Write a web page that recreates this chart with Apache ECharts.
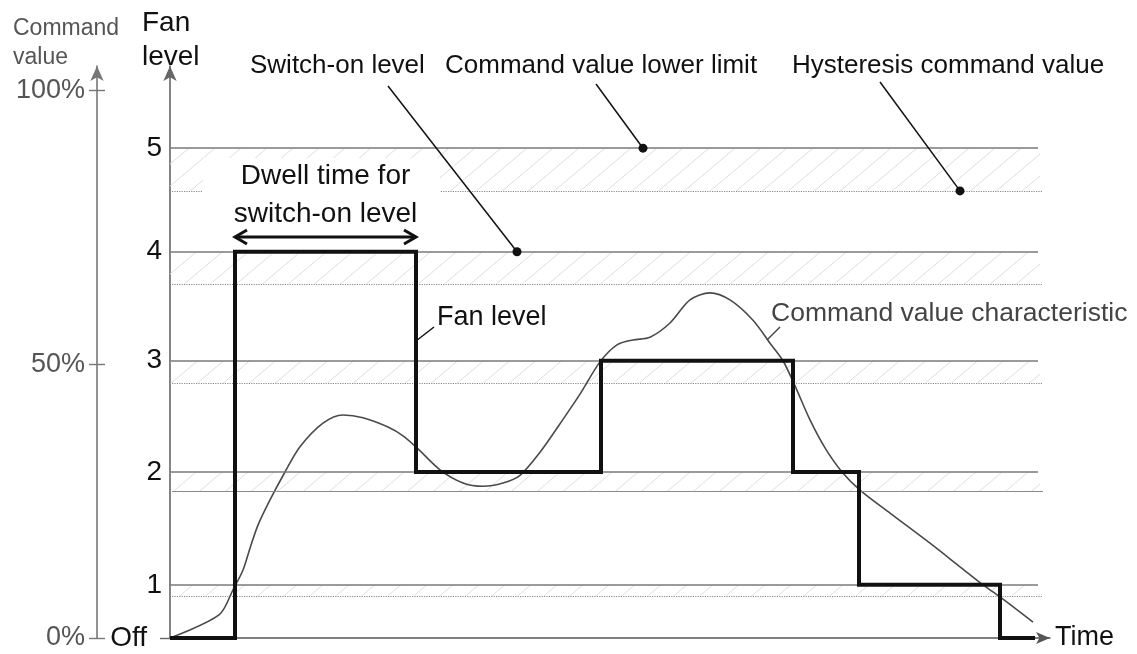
<!DOCTYPE html>
<html>
<head>
<meta charset="utf-8">
<title>Fan level</title>
<script src="https://cdn.jsdelivr.net/npm/echarts@6/dist/echarts.min.js"></script>
<style>
	html, body { margin:0; padding:0; background:#fff; }
	#chart { width:1137px; height:654px; }
</style>
</head>
<body>
<div id="chart"></div>
<script>
// fan levels and the command value (%) where each one switches on / off again
let levelNames = ['Off', '1', '2', '3', '4', '5']
let switchOnValues = [0, 9.7, 30.3, 50.6, 70.5, 89.4]
let hysteresisValues = [0, 7.7, 26.8, 46.5, 64.6, 81.6]
let percentTicks = [0, 50, 100]

// fan level over time (time of change, new level)
let stepTimes = [0, 6.5, 24.6, 43.1, 62.3, 68.9, 83.0, 86.5]
let stepLevels = [0, 4, 2, 3, 2, 1, 0, 0]

// command value characteristic
let curveTimes = [0, 4.9, 6.3, 7.3, 8.0, 8.8, 10.0, 11.5, 13.0, 15.3, 17.3, 19.3, 21.8, 23.3, 24.7, 27.0, 29.3, 31.3, 33.3, 35.0, 37.0, 39.0, 41.0, 43.0, 44.7, 46.3, 48.0, 50.0, 52.0, 54.0, 56.0, 58.3, 60.0, 61.3, 62.6, 64.0, 65.5, 67.2, 69.0, 72.0, 76.0, 79.0, 81.3, 83.0, 86.3]
let curveValues = [0, 4.2, 8.8, 12.4, 16.4, 20.6, 25.2, 30.3, 34.9, 39.2, 40.7, 40.2, 38.5, 36.9, 34.7, 30.7, 28.3, 27.7, 28.3, 29.7, 33.9, 39.1, 44.5, 50.4, 53.5, 54.4, 54.9, 57.5, 61.7, 63.0, 61.7, 58.0, 53.8, 50.6, 45.6, 39.8, 34.7, 30.3, 27.0, 22.8, 17.3, 13.0, 9.7, 7.5, 2.9]

let font = "'Liberation Sans', Arial, sans-serif"
let lineEnd = 86.8
let dotEnd = 87.3

function hatch(){
	let c = document.createElement('canvas')
	c.width = 26
	c.height = 22
	let ctx = c.getContext('2d')
	ctx.strokeStyle = '#dedede'
	ctx.lineWidth = 1
	ctx.beginPath()
	ctx.moveTo(0, 22)
	ctx.lineTo(26, 0)
	ctx.stroke()
	return c
}
let hatchImg = hatch()

let thresholdLines = []
let hatchAreas = []
for (let i = 1; i < levelNames.length; i++) {
	thresholdLines.push([
		{coord:[0, switchOnValues[i]], lineStyle:{color:'#7a7a7a', width:1.6, type:'solid'}},
		{coord:[lineEnd, switchOnValues[i]]}
	])
	thresholdLines.push([
		{coord:[0.2, hysteresisValues[i]], lineStyle:{color:'#8a8a8a', width:1.2, type: i == 2 ? 'solid' : 'dotted'}},
		{coord:[dotEnd, hysteresisValues[i]]}
	])
	hatchAreas.push([
		{coord:[0, hysteresisValues[i]]},
		{coord:[87, switchOnValues[i]]}
	])
}

let myChart = echarts.init(document.getElementById('chart'))
let option = {
	animation:false,
	backgroundColor:'#fff',
	textStyle:{fontFamily:font},
	grid:{left:170, right:87, top:66, bottom:16, containLabel:false},
	xAxis:{
		type:'value', min:0, max:88,
		axisLine:{show:true, symbol:['none','arrow'], symbolSize:[9,14], lineStyle:{color:'#555', width:1.5}},
		axisTick:{show:false}, axisLabel:{show:false}, splitLine:{show:false},
		name:'Time', nameLocation:'end', nameGap:5,
		nameTextStyle:{fontSize:27, color:'#111', fontFamily:font}
	},
	yAxis:[
		{
			type:'value', min:0, max:104.4, position:'left',
			axisLine:{show:true, symbol:['none','arrow'], symbolSize:[10,15], lineStyle:{color:'#666', width:1.6}},
			axisTick:{show:true, customValues:[0], length:10, lineStyle:{color:'#666', width:1.4}},
			axisLabel:{
				show:true, customValues:switchOnValues, margin:8,
				fontSize:28, color:'#111', fontFamily:font,
				formatter:function(v){
					let idx = switchOnValues.indexOf(v)
					if (idx == 0) return '{off|Off}'
					return levelNames[idx]
				},
				rich:{off:{fontSize:28, color:'#111', fontFamily:font, padding:[0,15,0,0]}}
			},
			splitLine:{show:false}
		},
		{
			type:'value', min:0, max:104.4, position:'left', offset:73,
			axisLine:{show:true, symbol:['none','arrow'], symbolSize:[10,15], lineStyle:{color:'#777', width:1.6}},
			axisTick:{show:true, customValues:percentTicks, length:8, lineStyle:{color:'#777', width:1.4}},
			axisLabel:{show:true, customValues:percentTicks, margin:12, fontSize:27, color:'#555', fontFamily:font, formatter:'{value}%'},
			splitLine:{show:false}
		},
		{
			type:'value', min:0, max:104.4, position:'left', offset:73,
			axisLine:{show:false},
			axisTick:{show:true, inside:true, customValues:percentTicks, length:8, lineStyle:{color:'#777', width:1.4}},
			axisLabel:{show:false},
			splitLine:{show:false}
		}
	],
	series:[
		{
			name:'thresholds',
			type:'line',
			data:[],
			silent:true,
			markArea:{
				silent:true,
				itemStyle:{color:{image:hatchImg, repeat:'repeat'}},
				data:hatchAreas
			},
			markLine:{
				silent:true,
				symbol:['none','none'],
				label:{show:false},
				data:thresholdLines
			}
		},
		{
			name:'Command value characteristic',
			type:'line',
			smooth:0.3,
			symbol:'none',
			z:4,
			lineStyle:{color:'#4a4a4a', width:1.6},
			data:curveTimes.map((t, i) => [t, curveValues[i]])
		},
		{
			name:'Fan level',
			type:'line',
			step:'end',
			symbol:'none',
			z:5,
			lineStyle:{color:'#111', width:4, join:'miter', cap:'butt'},
			data:stepTimes.map((t, i) => [t, switchOnValues[stepLevels[i]]])
		}
	]
}
myChart.setOption(option)

// annotations
function px(x, y){
	return myChart.convertToPixel({xAxisIndex:0, yAxisIndex:0}, [x, y])
}
function text(str, x, y, size, color, align){
	return {
		type:'text', z:60, x:x, y:y,
		style:{text:str, fontSize:size, fill:color, fontFamily:font, align:align || 'left', verticalAlign:'middle'}
	}
}
function seg(a, b, w, color){
	return {
		type:'line', z:60,
		shape:{x1:a[0], y1:a[1], x2:b[0], y2:b[1]},
		style:{stroke:color || '#111', lineWidth:w || 1.5}
	}
}
function dot(p){
	return {type:'circle', z:61, shape:{cx:p[0], cy:p[1], r:4.5}, style:{fill:'#111'}}
}

let callouts = [
	{label:'Switch-on level', x:250, from:[388, 86], at:[34.7, switchOnValues[4]]},
	{label:'Command value lower limit', x:445, from:[596, 84], at:[47.3, switchOnValues[5]]},
	{label:'Hysteresis command value', x:792, from:[880, 82], at:[79.0, hysteresisValues[5]]}
]

let g = []
g.push(text('Command', 13, 29, 23, '#555'))
g.push(text('value', 13, 58, 23, '#555'))
g.push(text('Fan', 142, 23, 28, '#111'))
g.push(text('level', 142, 57, 28, '#111'))

callouts.forEach(function(c){
	let p = px(c.at[0], c.at[1])
	g.push(text(c.label, c.x, 66, 26, '#111'))
	g.push(seg(c.from, p, 1.5))
	g.push(dot(p))
})

// dwell time box and arrow
let a0 = px(stepTimes[1], 73.2)
let a1 = px(stepTimes[2], 73.2)
g.push({type:'rect', z:55, shape:{x:203, y:158, width:237, height:74}, style:{fill:'#fff'}})
g.push(text('Dwell time for', (a0[0] + a1[0]) / 2, 176, 28, '#111', 'center'))
g.push(text('switch-on level', (a0[0] + a1[0]) / 2, 214, 28, '#111', 'center'))
g.push(seg(a0, a1, 3))
g.push({type:'polyline', z:60, shape:{points:[[a0[0] + 12, a0[1] - 7], a0, [a0[0] + 12, a0[1] + 7]]}, style:{stroke:'#111', lineWidth:3, fill:null}})
g.push({type:'polyline', z:60, shape:{points:[[a1[0] - 12, a1[1] - 7], a1, [a1[0] - 12, a1[1] + 7]]}, style:{stroke:'#111', lineWidth:3, fill:null}})

// series labels
g.push(text('Fan level', 437, 318, 27, '#111'))
g.push(seg([434, 327], [416, 341], 1.5))
g.push(text('Command value characteristic', 771, 314, 26.5, '#444'))
g.push(seg([780, 327], [767, 340], 1.5, '#444'))

myChart.setOption({graphic:g})
</script>
</body>
</html>
